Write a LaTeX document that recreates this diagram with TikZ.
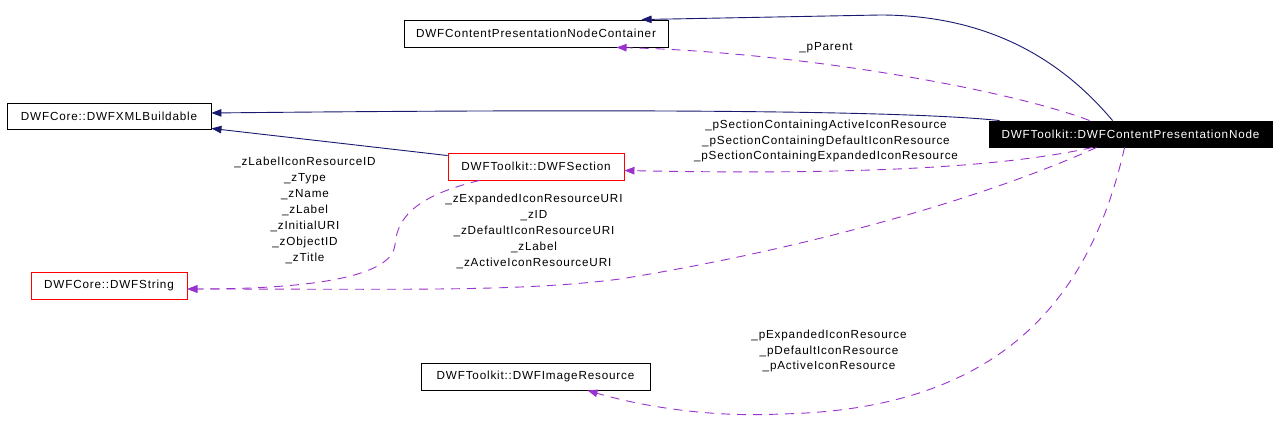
\documentclass[tikz,border=0pt]{standalone}
\usepackage{fontspec}
\setmainfont{Liberation Sans}[LetterSpace=7]
\usetikzlibrary{arrows.meta}
\definecolor{navy}{HTML}{191970}
\definecolor{purp}{HTML}{9A32CD}
\begin{document}
\begin{tikzpicture}[x=1pt,y=-1pt,
  font=\fontsize{11.7}{15.9}\selectfont,
  box/.style={draw=black, line width=0.9pt, minimum height=27pt, inner sep=0pt, fill=white},
  redbox/.style={box, draw=red},
  mainbox/.style={box, fill=black, text=white},
  inh/.style={draw=navy, line width=0.9pt, -{Triangle[length=10pt,width=7.5pt,fill=navy]}},
  uses/.style={draw=purp, line width=0.9pt, dash pattern=on 9pt off 7pt, -{Triangle[length=10pt,width=7.5pt,fill=purp]}},
  lab/.style={align=center, inner sep=0pt}]
\useasboundingbox (0,0) rectangle (1277,441);
\fill[white] (0,0) rectangle (1277,441);

\node[box, minimum width=264pt] (c) at (536,33.5) {DWFContentPresentationNodeContainer};
\node[box, minimum width=204pt, minimum height=26pt] (x) at (109,116) {DWFCore::DWFXMLBuildable};
\node[redbox, minimum width=176pt] (s) at (536,166.5) {DWFToolkit::DWFSection};
\node[redbox, minimum width=156pt] (str) at (109,285.5) {DWFCore::DWFString};
\node[box, minimum width=229pt] (img) at (535.5,376.5) {DWFToolkit::DWFImageResource};
\node[mainbox, minimum width=283pt, minimum height=26pt] (n) at (1130.5,134) {DWFToolkit::DWFContentPresentationNode};

% inheritance
\draw[inh] ([xshift=124pt]n.north west) .. controls (1070,70) and (1000,15) .. (880,15) -- ([xshift=238pt]c.north west);
\draw[inh] ([xshift=11pt]n.north west) .. controls (900,110) and (600,109) .. ([yshift=3pt]x.east);
\draw[inh] ([yshift=-3pt]s.north west) -- ([yshift=1pt]x.south east);

% usage
\draw[uses] ([xshift=101pt]n.north west) .. controls (1010,90) and (800,52) .. ([xshift=213pt]c.south west);
\draw[uses] ([xshift=104pt]n.south west) .. controls (1000,168) and (850,175) .. ([yshift=-4pt]s.east);
\draw[uses] ([xshift=108pt]n.south west) .. controls (980,200) and (800,250) .. (620,279) .. controls (520,292) and (400,289) .. ([yshift=-3.5pt]str.east);
\draw[uses] ([xshift=32pt]s.south west) .. controls (420,195) and (397,215) .. (395,245) .. controls (392,275) and (320,289) .. ([yshift=-3.5pt]str.east);
\draw[uses] ([xshift=136pt]n.south west) .. controls (1090,300) and (1000,410) .. (780,414) .. controls (700,418) and (630,403) .. ([xshift=167pt]img.south west);

% labels
\node[lab] (lp) at (826,48) {\_pParent};
\node[lab] (ls) at (826,141) {\_pSectionContainingActiveIconResource\\\_pSectionContainingDefaultIconResource\\\_pSectionContainingExpandedIconResource};
\node[lab] (lz) at (534,231.5) {\_zExpandedIconResourceURI\\\_zID\\\_zDefaultIconResourceURI\\\_zLabel\\\_zActiveIconResourceURI};
\node[lab] (lw) at (305,210.5) {\_zLabelIconResourceID\\\_zType\\\_zName\\\_zLabel\\\_zInitialURI\\\_zObjectID\\\_zTitle};
\node[lab] (li) at (829,351) {\_pExpandedIconResource\\\_pDefaultIconResource\\\_pActiveIconResource};
\end{tikzpicture}
\end{document}
